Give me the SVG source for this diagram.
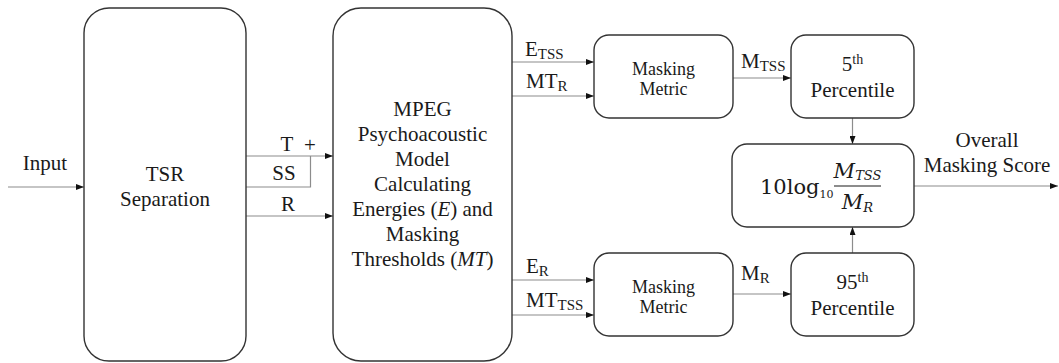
<svg xmlns="http://www.w3.org/2000/svg" width="1059" height="363" viewBox="0 0 1059 363">
  <defs>
    <marker id="arr" markerWidth="8" markerHeight="6" refX="8" refY="3" orient="auto" markerUnits="userSpaceOnUse">
      <path d="M0,0 L8,3 L0,6 z" fill="#111"/>
    </marker>
    <style>
      .box { fill: #fff; stroke: #333; stroke-width: 1.4; }
      .ln { fill: none; stroke: #8c8c8c; stroke-width: 1.2; }
      .arrow { marker-end: url(#arr); }
      .t { font-family: "Liberation Serif", "Times New Roman", serif; font-size: 21px; fill: #1a1a1a; }
      .c { text-anchor: middle; }
      .s { font-size: 18px; }
      .sub { font-size: 15px; }
      .sup { font-size: 14px; }
      .fm { font-family: "DejaVu Serif", serif; font-size: 21px; fill: #1a1a1a; }
      .fi { font-style: italic; }
    </style>
  </defs>

  <rect width="1059" height="363" fill="#fff"/>

  <!-- connectors -->
  <g id="connectors">
    <path class="ln arrow" d="M8,187 H84"/>
    <path class="ln arrow" d="M246,156 H333"/>
    <path class="ln" d="M246,187 H310.5 V156"/>
    <path class="ln arrow" d="M246,216 H333"/>
    <path class="ln arrow" d="M512,62 H594"/>
    <path class="ln arrow" d="M512,96 H594"/>
    <path class="ln arrow" d="M512,280 H594"/>
    <path class="ln arrow" d="M512,315 H594"/>
    <path class="ln arrow" d="M733,78 H791"/>
    <path class="ln arrow" d="M733,294 H791"/>
    <path class="ln arrow" d="M852.5,118 V144"/>
    <path class="ln arrow" d="M852.5,253 V227"/>
    <path class="ln arrow" d="M914,186 H1058"/>

    <!-- connector labels -->
    <text class="t c" x="45" y="170">Input</text>
    <text class="t c" x="287" y="151">T</text>
    <text class="t c" x="310" y="152">+</text>
    <text class="t c" x="284" y="180">SS</text>
    <text class="t c" x="288" y="211">R</text>
    <text class="t" x="525" y="56">E<tspan class="sub" dy="3">TSS</tspan></text>
    <text class="t" x="526" y="88">MT<tspan class="sub" dy="3">R</tspan></text>
    <text class="t" x="526" y="273">E<tspan class="sub" dy="3">R</tspan></text>
    <text class="t" x="526" y="307">MT<tspan class="sub" dy="3">TSS</tspan></text>
    <text class="t" x="741" y="68">M<tspan class="sub" dy="3">TSS</tspan></text>
    <text class="t" x="741" y="280">M<tspan class="sub" dy="3">R</tspan></text>
    <text class="t c" x="987" y="147">Overall</text>
    <text class="t c" x="987" y="172">Masking Score</text>
  </g>

  <!-- TSR separation -->
  <g id="tsr">
    <rect class="box" x="84" y="8" width="162" height="353" rx="25"/>
    <text class="t c" x="165" y="181">TSR</text>
    <text class="t c" x="165" y="206">Separation</text>
  </g>

  <!-- psychoacoustic model -->
  <g id="mpeg">
    <rect class="box" x="333" y="8" width="179" height="353" rx="28"/>
    <text class="t c" x="422.5" y="116">MPEG</text>
    <text class="t c" x="422.5" y="141">Psychoacoustic</text>
    <text class="t c" x="422.5" y="166">Model</text>
    <text class="t c" x="422.5" y="191">Calculating</text>
    <text class="t c" x="422.5" y="216">Energies (<tspan class="fi">E</tspan>) and</text>
    <text class="t c" x="422.5" y="241">Masking</text>
    <text class="t c" x="422.5" y="266">Thresholds (<tspan class="fi">MT</tspan>)</text>
  </g>

  <!-- masking metrics -->
  <g id="metric-tss">
    <rect class="box" x="594" y="35" width="139" height="83" rx="15"/>
    <text class="t s c" x="663.5" y="75">Masking</text>
    <text class="t s c" x="663.5" y="95">Metric</text>
  </g>
  <g id="metric-r">
    <rect class="box" x="594" y="253" width="139" height="83" rx="15"/>
    <text class="t s c" x="663.5" y="293">Masking</text>
    <text class="t s c" x="663.5" y="313">Metric</text>
  </g>

  <!-- percentiles -->
  <g id="p5">
    <rect class="box" x="791" y="35" width="123" height="83" rx="15"/>
    <text class="t c" x="852.5" y="71">5<tspan class="sup" dy="-7">th</tspan></text>
    <text class="t c" x="852.5" y="97">Percentile</text>
  </g>
  <g id="p95">
    <rect class="box" x="791" y="253" width="123" height="83" rx="15"/>
    <text class="t c" x="852.5" y="289">95<tspan class="sup" dy="-7">th</tspan></text>
    <text class="t c" x="852.5" y="315">Percentile</text>
  </g>

  <!-- overall score formula -->
  <g id="score">
    <rect class="box" x="732" y="144" width="182" height="83" rx="15"/>
    <text class="fm" x="760" y="194">10log<tspan font-size="11" dy="4">10</tspan></text>
    <line x1="834" y1="186" x2="881" y2="186" stroke="#1a1a1a" stroke-width="1.2"/>
    <text class="fm fi c" x="857.5" y="178">M<tspan font-size="13" dy="2">TSS</tspan></text>
    <text class="fm fi c" x="857.5" y="209">M<tspan font-size="13" dy="3">R</tspan></text>
  </g>
</svg>
